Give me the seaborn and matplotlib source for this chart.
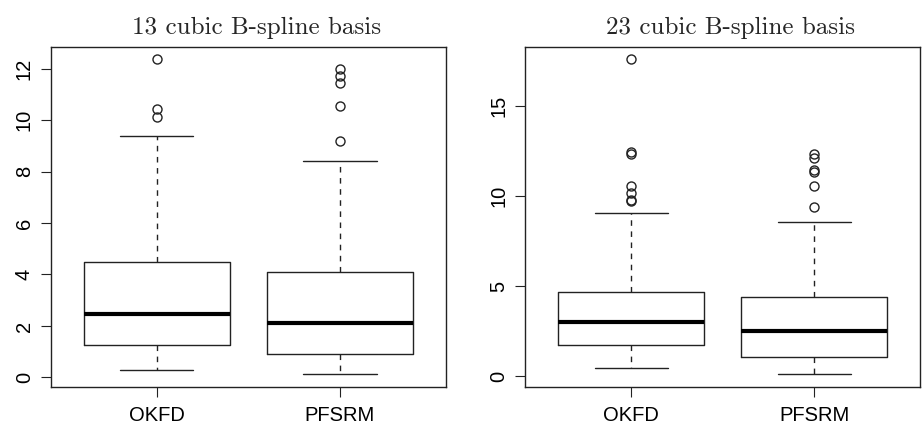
import numpy as np
import seaborn as sns
import matplotlib.pyplot as plt

methods = ["OKFD", "PFSRM"]

# 13 cubic B-spline basis: five-number summaries
med_13 = [2.46, 2.11]
q1_13 = [1.27, 0.91]
q3_13 = [4.50, 4.10]
lo_13 = [0.28, 0.13]
hi_13 = [9.38, 8.41]
out_13 = [[12.36, 10.41, 10.13],
          [12.00, 11.72, 11.44, 10.55, 9.18]]

# 23 cubic B-spline basis
med_23 = [3.01, 2.51]
q1_23 = [1.74, 1.07]
q3_23 = [4.69, 4.40]
lo_23 = [0.44, 0.11]
hi_23 = [9.05, 8.57]
out_23 = [[17.59, 12.43, 12.32, 10.53, 10.16, 9.79, 9.74],
          [12.32, 12.10, 11.42, 11.34, 10.53, 9.38]]

titles = ["13 cubic B-spline basis", "23 cubic B-spline basis"]
yticks = [[0, 2, 4, 6, 8, 10, 12], [0, 5, 10, 15]]

sns.set_style("white")
plt.rcParams['font.family'] = ['Liberation Sans', 'DejaVu Sans']

fig = plt.figure(figsize=(9.22, 4.24), dpi=100)
ax1 = fig.add_axes([0.055, 0.088, 0.4288, 0.8019])
ax2 = fig.add_axes([0.5694, 0.088, 0.4288, 0.8019])

panels = [
    (ax1, med_13, q1_13, q3_13, lo_13, hi_13, out_13),
    (ax2, med_23, q1_23, q3_23, lo_23, hi_23, out_23),
]

ink = "#222222"
for i, (ax, med, q1, q3, lo, hi, out) in enumerate(panels):
    stats = []
    for j, name in enumerate(methods):
        stats.append(dict(label=name, med=med[j], q1=q1[j], q3=q3[j],
                          whislo=lo[j], whishi=hi[j], fliers=out[j]))
    ax.bxp(stats, positions=[1, 2], widths=0.8, capwidths=0.4,
           boxprops=dict(color=ink, linewidth=1.0),
           medianprops=dict(color="black", linewidth=3.0, solid_capstyle="butt"),
           whiskerprops=dict(color=ink, linewidth=1.0, linestyle=(0, (4, 4))),
           capprops=dict(color=ink, linewidth=1.0),
           flierprops=dict(marker="o", markersize=6.5, markerfacecolor="none",
                           markeredgecolor=ink, markeredgewidth=1.0))

    # R style limits: 4% padding around the data range
    ymin = min(lo)
    ymax = max(max(o) for o in out)
    pad = 0.04 * (ymax - ymin)
    ax.set_ylim(ymin - pad, ymax + pad)
    ax.set_xlim(0.42, 2.58)
    ax.set_yticks(yticks[i])
    ax.set_xticks([1, 2])
    ax.set_xticklabels(methods)

    ax.tick_params(axis="both", direction="out", length=7.2, width=0.8,
                   color=ink, labelsize=14.5, labelcolor="black")
    ax.tick_params(axis="x", pad=7, bottom=True)
    ax.tick_params(axis="y", pad=5, left=True)
    for lab in ax.get_yticklabels():
        lab.set_rotation(90)
        lab.set_va("center")
    for sp in ax.spines.values():
        sp.set_color(ink)
        sp.set_linewidth(1.0)

    ax.set_title(titles[i], fontfamily="cmr10", fontsize=18, pad=9, x=0.52)

plt.savefig("out.png", dpi=100)
plt.close()
